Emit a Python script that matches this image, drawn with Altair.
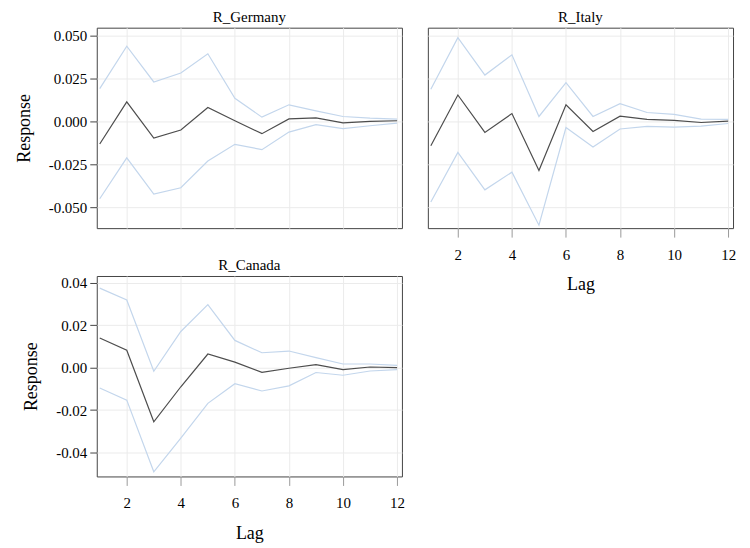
import altair as alt
import pandas as pd

lags = list(range(1, 13))

germany_irf = [-0.0131, 0.0114, -0.0097, -0.0050, 0.0081, 0.0004, -0.0071, 0.0015, 0.0021, -0.0008, 0.0000, 0.0004]
germany_upper = [0.0191, 0.0438, 0.0230, 0.0282, 0.0394, 0.0135, 0.0025, 0.0097, 0.0062, 0.0029, 0.0019, 0.0014]
germany_lower = [-0.0450, -0.0212, -0.0423, -0.0386, -0.0230, -0.0133, -0.0164, -0.0062, -0.0019, -0.0042, -0.0025, -0.0010]

italy_irf = [-0.0141, 0.0154, -0.0064, 0.0046, -0.0286, 0.0097, -0.0058, 0.0031, 0.0012, 0.0006, -0.0006, 0.0002]
italy_upper = [0.0187, 0.0488, 0.0270, 0.0388, 0.0029, 0.0226, 0.0029, 0.0104, 0.0052, 0.0041, 0.0014, 0.0012]
italy_lower = [-0.0469, -0.0180, -0.0398, -0.0295, -0.0604, -0.0035, -0.0149, -0.0044, -0.0029, -0.0033, -0.0027, -0.0012]

canada_irf = [0.0139, 0.0082, -0.0255, -0.0090, 0.0064, 0.0026, -0.0022, -0.0003, 0.0014, -0.0009, 0.0003, 0.0000]
canada_upper = [0.0374, 0.0318, -0.0017, 0.0170, 0.0296, 0.0128, 0.0070, 0.0078, 0.0047, 0.0017, 0.0017, 0.0011]
canada_lower = [-0.0096, -0.0153, -0.0490, -0.0332, -0.0168, -0.0076, -0.0110, -0.0086, -0.0023, -0.0036, -0.0016, -0.0009]

top_ticks = [-0.05, -0.025, 0.0, 0.025, 0.05]
canada_ticks = [-0.04, -0.02, 0.0, 0.02, 0.04]
lag_ticks = [2, 4, 6, 8, 10, 12]

FONT = "Liberation Serif"
BLUE = "#c3d6ec"
DARK = "#4d4d4d"
W, H = 306, 201


def make_df(irf, lower, upper):
    rows = []
    for band, vals in (("Lower", lower), ("Upper", upper), ("IRF", irf)):
        for l, v in zip(lags, vals):
            rows.append({"lag": l, "value": v, "band": band})
    return pd.DataFrame(rows)


def panel(name, df, ydom, yticks, yfmt, show_y, show_x):
    if show_x:
        xaxis = alt.Axis(values=lag_ticks, title="Lag", grid=True, domain=False,
                         tickSize=9, tickColor="#9a9a9a", labelPadding=10,
                         titlePadding=14)
    else:
        xaxis = alt.Axis(values=lag_ticks, title=None, grid=True, domain=False,
                         labels=False, ticks=False)
    if show_y:
        yaxis = alt.Axis(values=yticks, title="Response", grid=True, domain=False,
                         format=yfmt, labelExpr="replace(datum.label, '\u2212', '-')",
                         tickSize=7, tickColor="#444444", labelPadding=3,
                         titlePadding=15)
    else:
        yaxis = alt.Axis(values=yticks, title=None, grid=True, domain=False,
                         labels=False, ticks=False)
    base = alt.Chart(df).encode(
        x=alt.X("lag:Q", scale=alt.Scale(domain=[0.89, 12.18], nice=False, zero=False), axis=xaxis),
        y=alt.Y("value:Q", scale=alt.Scale(domain=ydom, nice=False, zero=False), axis=yaxis),
        detail="band:N",
    )
    bands = base.transform_filter(alt.datum.band != "IRF").mark_line(color=BLUE, strokeWidth=1.2)
    irf = base.transform_filter(alt.datum.band == "IRF").mark_line(color=DARK, strokeWidth=1.2)
    return alt.layer(bands, irf).properties(
        width=W, height=H,
        title=alt.TitleParams(name, font=FONT, fontSize=15, fontWeight="normal",
                              color="black", offset=3),
    )


germany = panel("R_Germany", make_df(germany_irf, germany_lower, germany_upper),
                [-0.0621, 0.0546], top_ticks, ".3f", True, False)
italy = panel("R_Italy", make_df(italy_irf, italy_lower, italy_upper),
              [-0.0621, 0.0546], top_ticks, ".3f", False, True)
canada = panel("R_Canada", make_df(canada_irf, canada_lower, canada_upper),
               [-0.0512, 0.0431], canada_ticks, ".2f", True, True)

chart = alt.concat(germany, italy, canada, columns=2, spacing={"row": 48, "column": 26}).properties(
    bounds="flush",
    background="white",
    padding={"left": 6, "top": 0, "right": 5, "bottom": 0},
).configure_view(
    stroke="#444444", strokeWidth=1
).configure_axis(
    labelFont=FONT, titleFont=FONT, labelFontSize=15, titleFontSize=18,
    titleFontWeight="normal", labelColor="black", titleColor="black",
    gridColor="#ebebeb", gridWidth=1,
)

chart.save("out.html", embed_options={"renderer": "svg", "actions": False})
